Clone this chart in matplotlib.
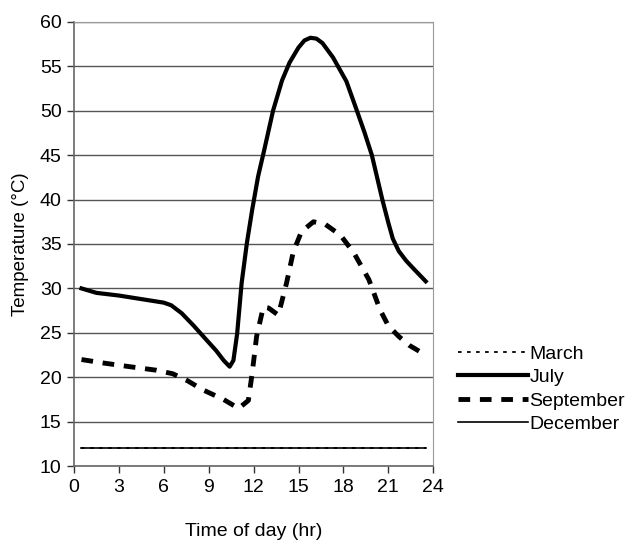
import matplotlib
matplotlib.use("Agg")
import matplotlib.pyplot as plt

plt.rcParams["font.family"] = ["Liberation Sans", "DejaVu Sans"]

# данные
flat_hours = [0.5, 23.5]
march_temp = [12.0, 12.0]
december_temp = [12.0, 12.0]

july_hours = [0.5, 1.5, 3.0, 4.5, 6.0, 6.5, 7.2, 8.0, 8.8, 9.5, 10.0, 10.4, 10.65,
              10.9, 11.2, 11.55, 11.9, 12.3, 12.7, 13.3, 13.9, 14.4, 15.0, 15.4,
              15.8, 16.2, 16.6, 17.3, 18.2, 18.9, 19.4, 19.9, 20.6, 21.0, 21.3,
              21.7, 22.2, 22.7, 23.1, 23.5]
july_temp = [30.0, 29.5, 29.2, 28.8, 28.4, 28.1, 27.2, 25.8, 24.3, 23.0, 21.9, 21.2, 21.9,
             24.9, 30.6, 35.1, 38.8, 42.6, 45.5, 50.0, 53.4, 55.4, 57.1, 57.9,
             58.2, 58.1, 57.6, 56.0, 53.3, 50.0, 47.6, 45.0, 40.0, 37.4, 35.6,
             34.2, 33.1, 32.2, 31.5, 30.8]

sept_hours = [0.5, 2.0, 3.7, 5.5, 6.6, 7.6, 8.6, 10.0, 11.0, 11.65, 11.9, 12.2,
              12.65, 13.0, 13.65, 14.2, 14.65, 15.2, 16.0, 16.8, 17.8, 18.7,
              19.7, 20.45, 21.0, 21.7, 22.4, 23.3]
sept_temp = [22.0, 21.6, 21.2, 20.8, 20.4, 19.6, 18.6, 17.5, 16.5, 17.4, 20.4, 24.6,
             27.9, 27.8, 27.0, 30.6, 34.1, 36.4, 37.5, 37.2, 36.0, 34.0,
             31.0, 27.6, 25.8, 24.6, 23.6, 22.7]

fig = plt.figure(figsize=(6.38, 5.44), dpi=100)
ax = fig.add_axes([0.116, 0.143, 0.563, 0.817])

ax.plot(flat_hours, march_temp, color="black", lw=1.3, ls=(0, (2, 3)), label="March", zorder=4)
ax.plot(july_hours, july_temp, color="black", lw=3.0, label="July", zorder=3,
        solid_joinstyle="round")
ax.plot(sept_hours, sept_temp, color="black", lw=3.5, ls=(0, (2.4, 2.0)), label="September", zorder=3)
ax.plot(flat_hours, december_temp, color="black", lw=1.2, label="December", zorder=3)

ax.set_xlim(0, 24)
ax.set_ylim(10, 60)
ax.set_xticks(range(0, 25, 3))
ax.set_yticks(range(10, 61, 5))
ax.yaxis.grid(True, color="#555555", lw=1.0)
ax.set_axisbelow(True)

for side in ["top", "right"]:
    ax.spines[side].set_color("#999999")
for side in ["left", "bottom"]:
    ax.spines[side].set_color("#666666")
    ax.spines[side].set_linewidth(1.2)

ax.tick_params(axis="both", direction="out", length=5, width=1, color="#333333",
               labelsize=14, pad=4)
ax.set_xlabel("Time of day (hr)", fontsize=14, labelpad=20)
ax.set_ylabel("Temperature (\u00b0C)", fontsize=13.5, labelpad=8)

leg = fig.legend(loc="upper left", bbox_to_anchor=(0.705, 0.38), frameon=False,
                 fontsize=14, handlelength=3.6, handletextpad=0.1,
                 labelspacing=0.3, borderaxespad=0)

fig.savefig("out.png", dpi=100)
